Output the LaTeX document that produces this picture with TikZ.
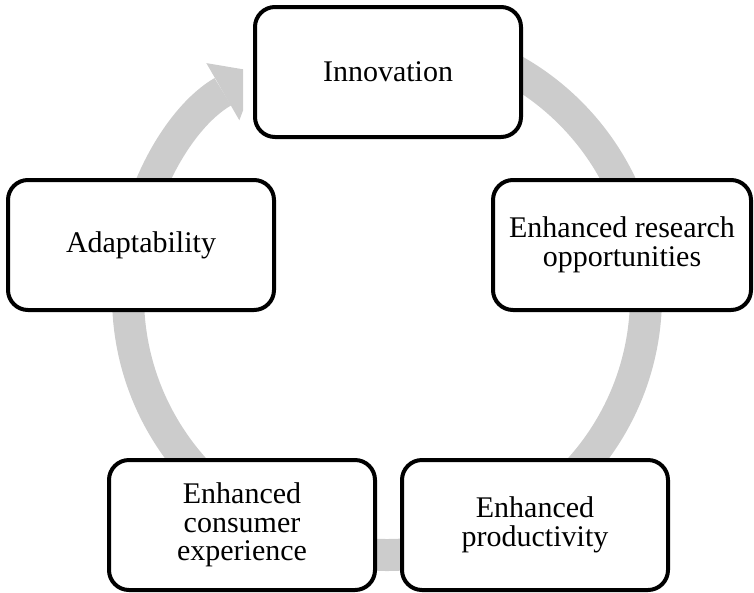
\documentclass[tikz,border=0pt]{standalone}
\usepackage{fontspec}
\setmainfont{Liberation Serif}
\usetikzlibrary{arrows.meta}
\begin{document}
\begin{tikzpicture}[x=1pt, y=-1pt,
    stage/.style={draw, fill=white, line width=4pt, rounded corners=20pt,
        minimum width=266pt, minimum height=130pt, align=center,
        font=\fontsize{30}{28.5}\selectfont}]
    \useasboundingbox (0,0) rectangle (754,592);
    %cycle arrow
    \begin{scope}
        \clip (0,0) -- (243,0) -- (243,140) -- (500,140) -- (500,0) -- (754,0) -- (754,592) -- (0,592) -- cycle;
        \draw[black!20, line width=32pt, -{Triangle[length=40pt, width=66pt, line width=0pt]}]
            (387,296) ++(-90:259) arc[start angle=-90, end angle=240, radius=259];
    \end{scope}
    %nodes
    \node[stage] at (388,72) (innov) {Innovation};
    \node[stage, minimum width=258pt] at (622,245) (research) {Enhanced research\\opportunities};
    \node[stage] at (535,525) (product) {Enhanced\\productivity};
    \node[stage] at (242,525) (consumer) {Enhanced\\consumer\\experience};
    \node[stage] at (141,245) (adapt) {Adaptability};
\end{tikzpicture}
\end{document}
